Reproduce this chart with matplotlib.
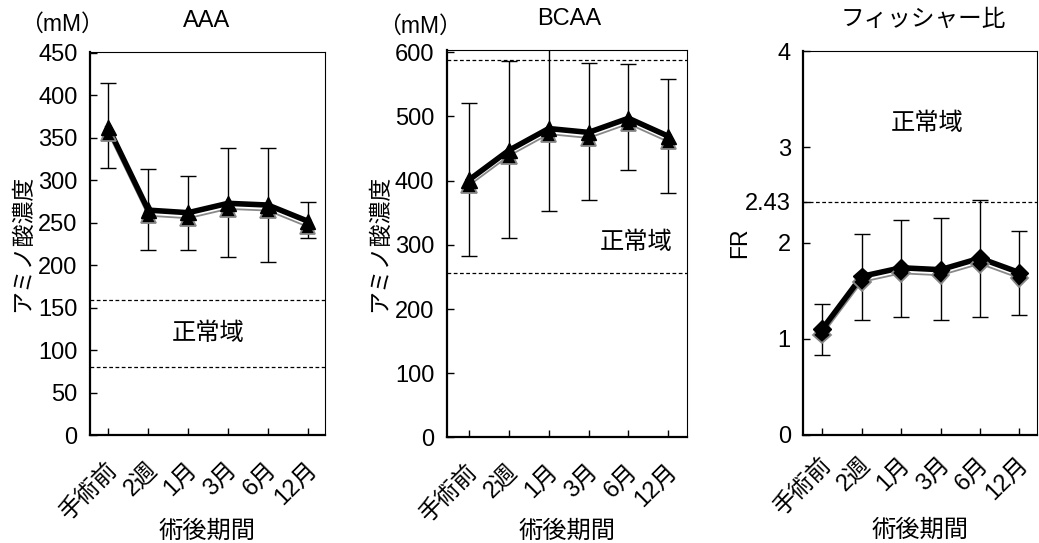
import numpy as np
import matplotlib
matplotlib.use('Agg')
import matplotlib.pyplot as plt
import matplotlib.patheffects as pe
import matplotlib.transforms as mtransforms

plt.rcParams['font.family'] = ['Liberation Sans', 'Noto Sans CJK JP', 'DejaVu Sans']

#### Datos ####
periodos = ['手術前', '2週', '1月', '3月', '6月', '12月']

aaa_media = [362, 265, 262, 273, 271, 252]
aaa_sup = [414, 313, 305, 338, 338, 274]
aaa_inf = [315, 218, 218, 210, 204, 232]
aaa_normal = [159, 81]

bcaa_media = [401, 447, 481, 475, 497, 469]
bcaa_sup = [521, 586, 615, 583, 581, 558]
bcaa_inf = [283, 310, 352, 370, 417, 381]
bcaa_normal = [587, 256]

fr_media = [1.10, 1.65, 1.74, 1.72, 1.84, 1.69]
fr_sup = [1.36, 2.09, 2.24, 2.26, 2.45, 2.12]
fr_inf = [0.83, 1.20, 1.23, 1.19, 1.23, 1.25]
fr_normal = [2.43]

fig = plt.figure(figsize=(10.39, 5.43), dpi=100)

paneles = [
    dict(pos=[0.0866, 0.1980, 0.2262, 0.7063], media=aaa_media, sup=aaa_sup, inf=aaa_inf,
         normal=aaa_normal, marker='^', ms=11, ylim=(0, 451), yticks=[0, 50, 100, 150, 200, 250, 300, 350, 400, 450],
         xlim=(-0.46, 5.43), title='AAA', tit_x=0.498, ylabel='アミノ酸濃度', unidad=(-0.119, 1.073),
         txt=(2.5, 120), ylab_x=-0.287, xlab_y=-0.25, xpad=22),
    dict(pos=[0.4299, 0.1943, 0.2310, 0.7133], media=bcaa_media, sup=bcaa_sup, inf=bcaa_inf,
         normal=bcaa_normal, marker='^', ms=11, ylim=(0, 603), yticks=[0, 100, 200, 300, 400, 500, 600],
         xlim=(-0.56, 5.46), title='BCAA', tit_x=0.51, ylabel='アミノ酸濃度', unidad=(-0.111, 1.0625),
         txt=(4.2, 303), ylab_x=-0.278, xlab_y=-0.243, xpad=22),
    dict(pos=[0.7732, 0.1998, 0.2246, 0.7059], media=fr_media, sup=fr_sup, inf=fr_inf,
         normal=fr_normal, marker='D', ms=9, ylim=(0, 4.0), yticks=[0, 1, 2, 2.43, 3, 4],
         xlim=(-0.48, 5.44), title='フィッシャー比', tit_x=0.513, ylabel='FR', unidad=None,
         txt=(2.65, 3.24), ylab_x=-0.271, xlab_y=-0.25, xpad=19),
]

x = np.arange(len(periodos))
desplazar = mtransforms.ScaledTranslation(4 / 72, 0, fig.dpi_scale_trans)

for p in paneles:
    ax = fig.add_axes(p['pos'])
    media = np.array(p['media'])
    err = [media - np.array(p['inf']), np.array(p['sup']) - media]
    ax.errorbar(x, media, yerr=err, fmt='none', ecolor='black', elinewidth=1.0,
                capsize=6, capthick=1.0, zorder=2)
    #### Linea gris fina debajo (efecto de sombra) ####
    ax.plot(x, media, color='black', linewidth=4, marker=p['marker'], markersize=p['ms'],
            zorder=3, path_effects=[pe.Stroke(offset=(0, -4), linewidth=1.3, foreground='#888888'),
                                    pe.Normal()])
    for v in p['normal']:
        ax.axhline(v, color='black', linestyle=(0, (3, 2)), linewidth=0.9, zorder=1)
    ax.text(p['txt'][0], p['txt'][1], '正常域', ha='center', va='center', fontsize=17.5)

    ax.set_xlim(p['xlim'])
    ax.set_ylim(p['ylim'])
    ax.set_xticks(x)
    ax.set_xticklabels(periodos, rotation=45, ha='right', va='center', rotation_mode='anchor', fontsize=17)
    ax.set_yticks(p['yticks'])
    ax.set_yticklabels([f'{t:g}' for t in p['yticks']], fontsize=17)
    ax.tick_params(direction='in', length=5, width=1, pad=9)
    ax.tick_params(axis='x', pad=p['xpad'])
    for lab in ax.get_xticklabels():
        lab.set_transform(lab.get_transform() + desplazar)

    ax.set_xlabel('術後期間', fontsize=17.5, va='center')
    ax.xaxis.set_label_coords(0.5, p['xlab_y'])
    ax.set_ylabel(p['ylabel'], fontsize=16.5, va='center')
    ax.yaxis.set_label_coords(p['ylab_x'], 0.5)
    ax.text(p['tit_x'], 1.081, p['title'], transform=ax.transAxes, ha='center', va='center', fontsize=17)
    for lado in ['left', 'bottom']:
        ax.spines[lado].set_linewidth(1.6)
    for lado in ['top', 'right']:
        ax.spines[lado].set_linewidth(0.8)
    if p['unidad']:
        ax.text(p['unidad'][0], p['unidad'][1], '（mM）', transform=ax.transAxes,
                ha='center', va='center', fontsize=16.5)

plt.savefig('out.png', dpi=100)
